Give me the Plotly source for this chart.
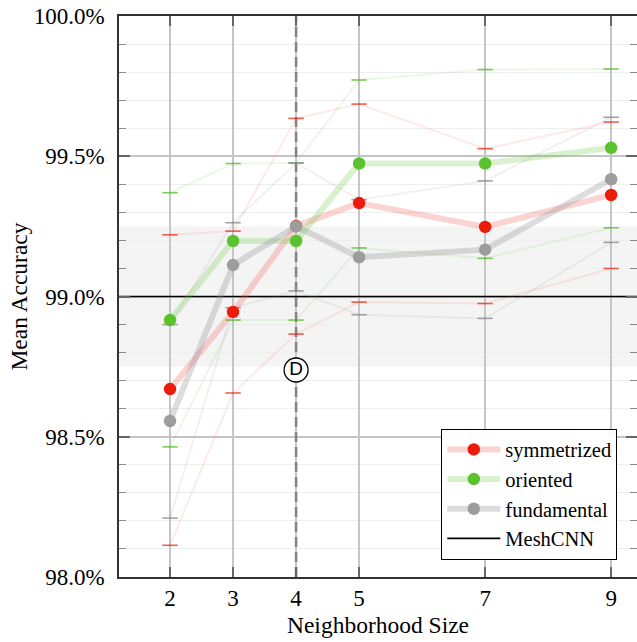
import plotly.graph_objects as go

# ---- data ----
x_sizes = [2, 3, 4, 5, 7, 9]
x_ticktext = ["2", "3", "4", "5", "7", "9"]

sym_mean = [98.670, 98.945, 99.251, 99.333, 99.248, 99.362]
sym_upper = [99.220, 99.233, 99.635, 99.686, 99.527, 99.622]
sym_lower = [98.113, 98.656, 98.866, 98.980, 98.975, 99.100]

ori_mean = [98.916, 99.198, 99.198, 99.474, 99.474, 99.530]
ori_upper = [99.370, 99.474, 99.476, 99.772, 99.809, 99.811]
ori_lower = [98.464, 98.916, 98.916, 99.173, 99.136, 99.245]

fun_mean = [98.556, 99.112, 99.250, 99.140, 99.167, 99.418]
fun_upper = [98.900, 99.263, 99.476, 99.345, 99.412, 99.639]
fun_lower = [98.210, 98.960, 99.020, 98.935, 98.922, 99.193]

meshcnn_value = 99.0
meshcnn_band = 0.25
chosen_size = 4
chosen_label = "D"
chosen_label_y = 98.738

y_ticks = [98.0, 98.5, 99.0, 99.5, 100.0]
x_range = [1.19, 9.41]
y_range = [98.0, 100.0]

FONT = "Times New Roman, Liberation Serif, serif"

series = [
    ("symmetrized", sym_mean, sym_upper, sym_lower,
     "#ec1b0b", "rgba(240,90,80,0.26)", "rgba(240,90,80,0.12)", "rgba(236,40,25,0.75)"),
    ("oriented", ori_mean, ori_upper, ori_lower,
     "#5bc22f", "rgba(100,195,60,0.24)", "rgba(100,195,60,0.12)", "rgba(80,185,40,0.75)"),
    ("fundamental", fun_mean, fun_upper, fun_lower,
     "#9d9d9d", "rgba(150,150,150,0.32)", "rgba(150,150,150,0.13)", "rgba(140,140,140,0.8)"),
]

fig = go.Figure()

# dashed vertical line at the chosen size (drawn first, under all other marks)
fig.add_trace(go.Scatter(
    x=[chosen_size, chosen_size], y=y_range, mode="lines",
    line=dict(color="#858585", width=2.6, dash="10px,5px"),
    showlegend=False, hoverinfo="skip"))

# MeshCNN reference line
fig.add_trace(go.Scatter(
    x=x_range, y=[meshcnn_value, meshcnn_value], mode="lines",
    line=dict(color="black", width=1.6), name="MeshCNN", legendrank=1004,
    hoverinfo="skip"))

# bound lines with caps
for name, mean, up, lo, mcol, lcol, bcol, ccol in series:
    for b in (up, lo):
        fig.add_trace(go.Scatter(
            x=x_sizes, y=b, mode="lines+markers",
            line=dict(color=bcol, width=2),
            marker=dict(symbol="line-ew", size=11, color=ccol,
                        line=dict(color=ccol, width=1.6)),
            showlegend=False, hoverinfo="skip"))

# mean lines
for i, (name, mean, up, lo, mcol, lcol, bcol, ccol) in enumerate(series):
    fig.add_trace(go.Scatter(
        x=x_sizes, y=mean, mode="lines+markers", name=name,
        line=dict(color=lcol, width=6),
        marker=dict(size=12.5, color=mcol, line=dict(width=0)),
        legendrank=1001 + i))

# circled label
fig.add_trace(go.Scatter(
    x=[chosen_size], y=[chosen_label_y], mode="markers+text",
    marker=dict(size=24, color="white", line=dict(color="black", width=1.3)),
    text=[chosen_label], textposition="middle center",
    textfont=dict(family="Liberation Sans", size=19, color="black"),
    showlegend=False, hoverinfo="skip"))

# shaded band around MeshCNN
fig.add_shape(type="rect", xref="paper", x0=0, x1=1, yref="y",
              y0=meshcnn_value - meshcnn_band, y1=meshcnn_value + meshcnn_band,
              fillcolor="#f4f4f4", line=dict(width=0), layer="below")

fig.update_layout(
    width=637, height=642,
    margin=dict(l=119, r=0, t=16, b=65, autoexpand=False),
    plot_bgcolor="white", paper_bgcolor="white",
    font=dict(family=FONT, size=23, color="black"),
    showlegend=True,
    legend=dict(x=0.962, y=0.031, xanchor="right", yanchor="bottom",
                bgcolor="white", bordercolor="black", borderwidth=1,
                font=dict(family=FONT, size=20.5), tracegroupgap=0,
                itemwidth=53),
    xaxis=dict(range=x_range, tickvals=x_sizes, ticktext=x_ticktext,
               showgrid=True, gridcolor="#c6c6c6", gridwidth=1.5,
               showline=True, linecolor="#333", linewidth=1.5, mirror="ticks",
               ticks="inside", ticklen=10, tickcolor="#666", tickwidth=1.5,
               zeroline=False,
               title=dict(text="Neighborhood Size", font=dict(size=23.5), standoff=6),
               tickfont=dict(size=23)),
    yaxis=dict(range=y_range, tickvals=y_ticks,
               ticktext=[f"{v:.1f}%" for v in y_ticks],
               showgrid=True, gridcolor="#c4c4c4", gridwidth=1.5,
               showline=True, linecolor="#333", linewidth=1.5, mirror="ticks",
               ticks="inside", ticklen=11, tickcolor="#666", tickwidth=1.5,
               zeroline=False, ticklabelstandoff=8,
               minor=dict(dtick=0.1, showgrid=True, gridcolor="#eeeeee", gridwidth=1,
                          ticks="inside", ticklen=7, tickcolor="#888", tickwidth=1.2),
               title=dict(text="Mean Accuracy", font=dict(size=23.5), standoff=0),
               tickfont=dict(size=23)),
)

fig.write_html("out.html", config={"displayModeBar": False},
               post_script="document.body.style.margin='0';document.body.style.overflow='hidden';")
